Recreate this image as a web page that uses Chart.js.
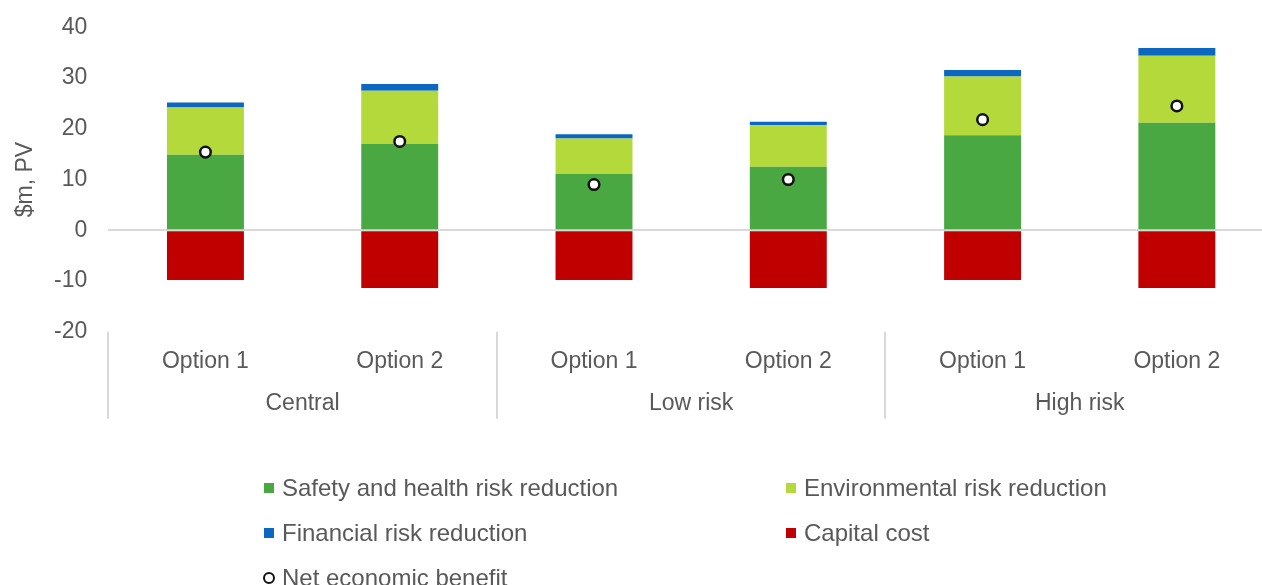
<!DOCTYPE html>
<html>
<head>
<meta charset="utf-8">
<script src="https://cdn.jsdelivr.net/npm/chart.js@4/dist/chart.umd.min.js"></script>
<style>
  html, body { margin: 0; padding: 0; background: #ffffff; overflow: hidden; }
  #wrap { position: relative; width: 1274px; height: 585px; }
  #chart { position: absolute; left: 0; top: 0; }
  #legend {
    position: absolute; left: 264px; top: 465px;
    display: grid; grid-template-columns: 522px auto;
    font-family: "Liberation Sans", Arial, sans-serif; font-size: 24px; color: #595959;
  }
  .item { display: flex; align-items: center; height: 45px; white-space: nowrap; }
  .mark { width: 10px; height: 10px; margin-right: 8px; box-sizing: border-box; flex: none; }
  .mark.dot { width: 12px; height: 12px; border-radius: 50%; border: 2.5px solid #111; background: #fff; margin-left: -1px; margin-right: 7px; }
</style>
</head>
<body>
<div id="wrap">
  <canvas id="chart" width="1274" height="585"></canvas>
  <div id="legend"></div>
</div>
<script>
// Option labels along the axis and the scenario each pair belongs to
const categories = ['Option 1', 'Option 2', 'Option 1', 'Option 2', 'Option 1', 'Option 2'];
const groups = ['Central', 'Low risk', 'High risk'];

// Present values, $m
const safetyHealth = [14.9, 17.0, 11.1, 12.5, 18.7, 21.2];
const environmental = [9.3, 10.5, 7.0, 8.2, 11.6, 13.2];
const financial = [1.0, 1.3, 0.8, 0.7, 1.3, 1.5];
const capitalCost = [-9.8, -11.4, -9.8, -11.4, -9.8, -11.4];
const netBenefit = [15.4, 17.5, 9.0, 10.0, 21.8, 24.5];

const yTicks = [-20, -10, 0, 10, 20, 30, 40];

const FONT = '"Liberation Sans", Arial, sans-serif';
const TEXT = '#595959';
const RULE = '#d9d9d9';

// Fixed scale boxes: no extra room reserved for overhanging tick labels
function noOverhang(scale) {
  scale.paddingTop = 0;
  scale.paddingBottom = 0;
  scale.paddingLeft = 0;
  scale.paddingRight = 0;
}

// Scenario names under the option labels, with separators between scenarios
const groupAxis = {
  id: 'groupAxis',
  afterDraw(chart) {
    const x = chart.scales.x;
    const ctx = chart.ctx;
    const step = x.width / categories.length;
    const top = chart.chartArea.bottom;
    ctx.save();
    ctx.strokeStyle = RULE;
    ctx.lineWidth = 2;
    for (let g = 0; g <= groups.length; g++) {
      const px = Math.round(x.left + g * 2 * step);
      ctx.beginPath();
      ctx.moveTo(px, top);
      ctx.lineTo(px, top + 87);
      ctx.stroke();
    }
    ctx.fillStyle = TEXT;
    ctx.font = '23px ' + FONT;
    ctx.textAlign = 'center';
    ctx.textBaseline = 'middle';
    groups.forEach((name, g) => {
      const cx = (x.getPixelForValue(2 * g) + x.getPixelForValue(2 * g + 1)) / 2;
      ctx.fillText(name, cx, top + 72);
    });
    ctx.restore();
  }
};

// Legend laid out in two columns below the chart
const htmlLegend = {
  id: 'htmlLegend',
  afterUpdate(chart) {
    const box = document.getElementById('legend');
    box.innerHTML = '';
    chart.data.datasets.forEach(ds => {
      const item = document.createElement('div');
      item.className = 'item';
      const mark = document.createElement('span');
      if (ds.type === 'line') {
        mark.className = 'mark dot';
      } else {
        mark.className = 'mark';
        mark.style.background = ds.backgroundColor;
      }
      item.appendChild(mark);
      item.appendChild(document.createTextNode(ds.label));
      box.appendChild(item);
    });
  }
};

new Chart(document.getElementById('chart'), {
  data: {
    labels: categories,
    datasets: [
      { type: 'bar', label: 'Safety and health risk reduction', data: safetyHealth, backgroundColor: '#4aa842', order: 1 },
      { type: 'bar', label: 'Environmental risk reduction', data: environmental, backgroundColor: '#b3d93b', order: 1 },
      { type: 'bar', label: 'Financial risk reduction', data: financial, backgroundColor: '#0b67bf', order: 1 },
      { type: 'bar', label: 'Capital cost', data: capitalCost, backgroundColor: '#c00000', order: 1 },
      {
        type: 'line', label: 'Net economic benefit', data: netBenefit, order: 0,
        showLine: false, pointStyle: 'circle', pointRadius: 5.3, pointHoverRadius: 5.3,
        pointBackgroundColor: '#ffffff', pointBorderColor: '#111111', pointBorderWidth: 2.5
      }
    ]
  },
  options: {
    responsive: false,
    animation: false,
    layout: { autoPadding: false, padding: { top: 27.3, left: 0, right: 0, bottom: 0 } },
    datasets: { bar: { categoryPercentage: 1, barPercentage: 0.396 } },
    plugins: { legend: { display: false }, tooltip: { enabled: false } },
    scales: {
      x: {
        stacked: true,
        grid: { display: false, drawTicks: false },
        border: { display: false },
        ticks: { color: TEXT, font: { family: FONT, size: 23 }, padding: 16, maxRotation: 0, autoSkip: false },
        afterFit(scale) { scale.height = 253.3; noOverhang(scale); }
      },
      y: {
        stacked: true,
        min: -20, max: 40,
        afterBuildTicks(scale) { scale.ticks = yTicks.map(v => ({ value: v })); },
        grid: {
          drawTicks: false,
          color: ctx => (ctx.tick && ctx.tick.value === 0 ? RULE : 'rgba(0,0,0,0)'),
          lineWidth: 2
        },
        border: { display: false },
        ticks: { color: TEXT, font: { family: FONT, size: 23 }, padding: 21 },
        title: {
          display: true, text: '$m, PV', color: TEXT,
          font: { family: FONT, size: 23 }, padding: { top: 12, bottom: 0 }
        },
        afterFit(scale) { scale.width = 108.3; noOverhang(scale); }
      }
    }
  },
  plugins: [groupAxis, htmlLegend]
});
</script>
</body>
</html>
